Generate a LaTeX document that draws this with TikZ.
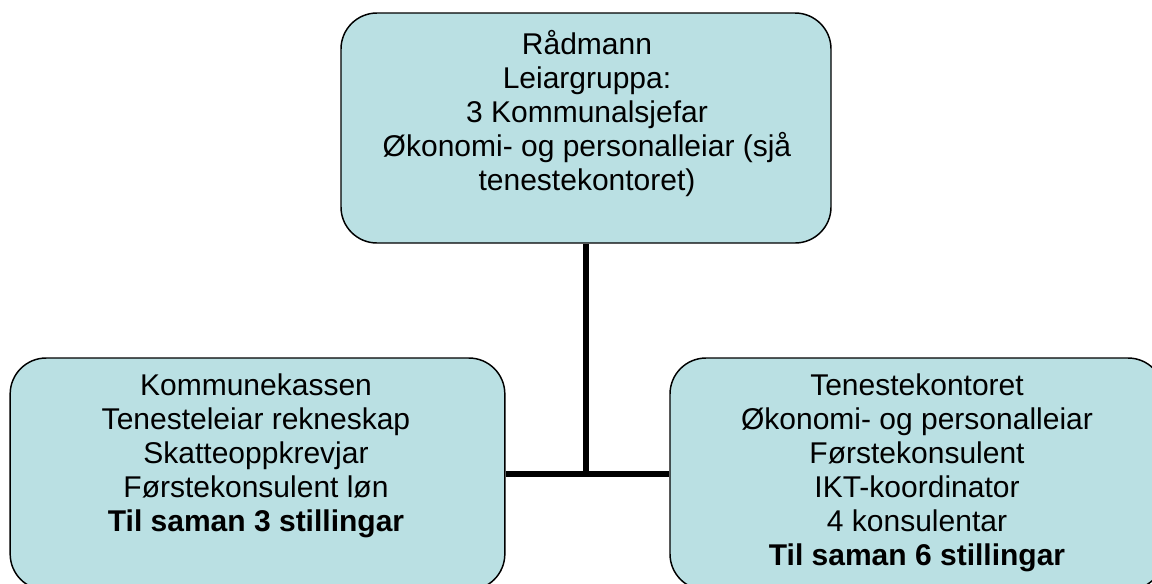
\documentclass[tikz,border=0pt]{standalone}
\usepackage{fontspec}
\setmainfont{Liberation Sans}
\usetikzlibrary{positioning}
\definecolor{boxblue}{RGB}{186,224,227}

\begin{document}
\begin{tikzpicture}[x=0.75pt, y=-0.75pt]

\tikzset{unit/.style = {shape=rectangle, rounded corners=27pt, draw, line width=1.1pt, fill=boxblue, inner sep=0pt}}
\tikzset{txt/.style = {align=center, font=\fontsize{22.5}{25.5}\selectfont, inner sep=0pt}}
\tikzset{edge/.style = {line width=4.5pt}}
\useasboundingbox (0,0) rectangle (1152,583);
%boxes
\node[unit, minimum width=367.5pt, minimum height=172.5pt] (raadmann) at (586,128) {};
\node[unit, minimum width=371pt, minimum height=174pt] (kasse) at (257.5,474) {};
\node[unit, minimum width=370.5pt, minimum height=174pt] (kontor) at (917,474) {};
%texts
\node[txt] (raadmann-txt) at (587,114) {Rådmann\\Leiargruppa:\\3 Kommunalsjefar\\Økonomi- og personalleiar (sjå\\tenestekontoret)};
\node[txt] (kasse-txt) at (256,456) {Kommunekassen\\Tenesteleiar rekneskap\\Skatteoppkrevjar\\Førstekonsulent løn\\\textbf{Til saman 3 stillingar}};
\node[txt] (kontor-txt) at (917,473) {Tenestekontoret\\Økonomi- og personalleiar\\Førstekonsulent\\IKT-koordinator\\4 konsulentar\\\textbf{Til saman 6 stillingar}};
%edges
\draw[edge] (kasse.east) -- (kontor.west);
\draw[edge] (raadmann.south) -- (raadmann.south |- kasse.east);

\end{tikzpicture}
\end{document}
